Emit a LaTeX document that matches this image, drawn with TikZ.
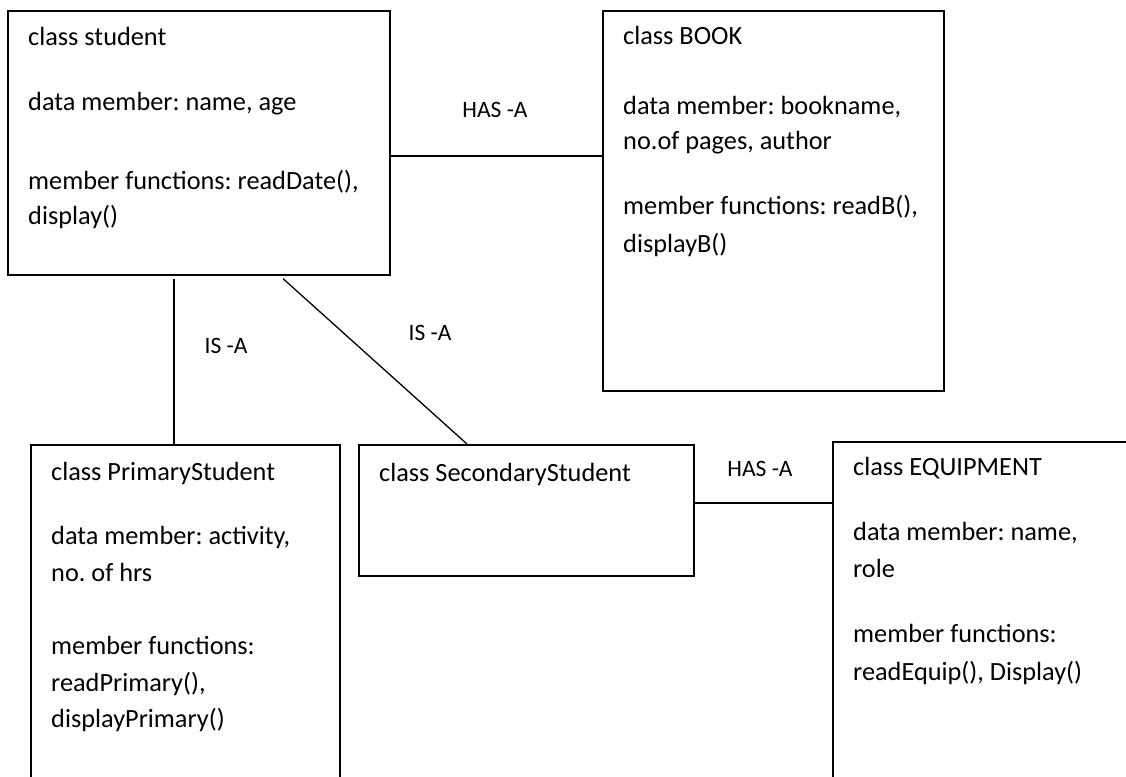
\documentclass[tikz,border=0pt]{standalone}
\usepackage{fontspec}
\setmainfont{Carlito}
\usetikzlibrary{calc}
\frenchspacing
\newcommand{\BoxLines}[1]{\vtop{\hsize=420pt\parindent=0pt\baselineskip=37pt\lineskiplimit=-100pt\lineskip=0pt\parskip=0pt #1}}
\begin{document}
\begin{tikzpicture}[x=1pt,y=-1pt,
  box/.style={draw, line width=1.6pt, inner sep=0pt, anchor=north west},
  link/.style={line width=1.3pt},
  txt/.style={anchor=base west, inner sep=0pt, font=\fontsize{26.3}{37}\selectfont\frenchspacing},
  lbl/.style={anchor=base, inner sep=0pt, font=\fontsize{23.5}{30}\selectfont}]
\useasboundingbox (0,0) rectangle (1126,776);
\clip (0,0) rectangle (1126,776);
\fill[white] (0,0) rectangle (1126,776);

% boxes
\node[box, minimum width=382pt, minimum height=264pt] (student) at (7,10) {};
\node[box, minimum width=341pt, minimum height=380pt] (book) at (602,10) {};
\node[box, minimum width=309pt, minimum height=360pt] (primary) at (30,444) {};
\node[box, minimum width=335pt, minimum height=131pt] (secondary) at (358,444) {};
\node[box, minimum width=330pt, minimum height=360pt] (equip) at (832,441) {};

% texts
\node[txt] (studentT) at (28,46) {\BoxLines{class student\par\vskip27pt
data member: name, age\par\vskip42pt
member functions: readDate(),\par\vskip-2pt
display()\par}};
\node[txt] (bookT) at (623,45) {\BoxLines{class BOOK\par\vskip33pt
data member: bookname,\par\vskip-2pt
no.of pages, author\par\vskip28pt
member functions: readB(),\par
displayB()\par}};
\node[txt] (primaryT) at (51,480) {\BoxLines{class PrimaryStudent\par\vskip27pt
data member: activity,\par
no. of hrs\par\vskip36pt
member functions:\par
readPrimary(),\par\vskip-1pt
displayPrimary()\par}};
\node[txt] (secondaryT) at (379,481) {class SecondaryStudent};
\node[txt] (equipT) at (853,475) {\BoxLines{class EQUIPMENT\par\vskip28pt
data member: name,\par
role\par\vskip28pt
member functions:\par\vskip1pt
readEquip(), Display()\par}};

% connectors
\draw[link] (student.east |- 0,156) -- (book.west |- 0,156);
\draw[link] ($(student.south west)+(167,3)$) -- ($(primary.north west)+(144,0)$);
\draw[link] ($(student.south west)+(276,3)$) -- ($(secondary.north west)+(109,0)$);
\draw[link] (secondary.east |- 0,503) -- (equip.west |- 0,503);

% labels
\node[lbl] (hasA1) at (495,117) {HAS -A};
\node[lbl] (isA1) at (226,353) {IS -A};
\node[lbl] (isA2) at (430,340) {IS -A};
\node[lbl] (hasA2) at (760,476) {HAS -A};
\end{tikzpicture}
\end{document}
